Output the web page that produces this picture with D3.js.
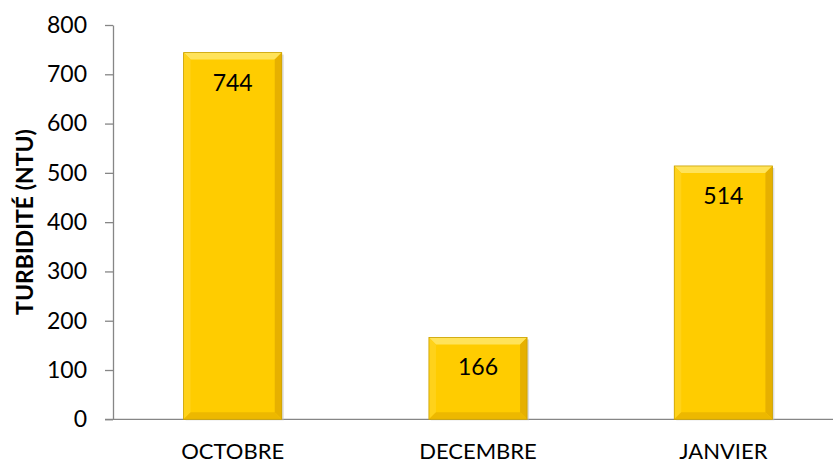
<!DOCTYPE html>
<html><head><meta charset="utf-8">
<script src="https://cdn.jsdelivr.net/npm/d3@7"></script>
<style>body{margin:0;background:#fff;} svg{display:block;}</style>
</head><body>
<svg id="c" width="833" height="463"></svg>
<script>
const categories = ["OCTOBRE", "DECEMBRE", "JANVIER"];
const values = [744, 166, 514];
const yTicks = [0, 100, 200, 300, 400, 500, 600, 700, 800];
const yTitle = "TURBIDITÉ (NTU)";

const svg = d3.select("#c");
const font = "Lato, 'Open Sans', sans-serif";
const x = d3.scaleBand().domain(categories).range([110, 846]).paddingInner(0.6).paddingOuter(0.3);
const y = d3.scaleLinear().domain([0, 800]).range([419.3, 25]);

// Axes
const yAxis = svg.append("g").attr("transform", "translate(113,0)")
  .call(d3.axisLeft(y).tickValues(yTicks).tickSize(8).tickPadding(18).tickSizeOuter(0));
yAxis.select(".domain").attr("stroke", "#868686").attr("stroke-width", 1.3);
yAxis.selectAll(".tick line").attr("stroke", "#868686").attr("stroke-width", 1.3);
yAxis.selectAll(".tick text").attr("font-family", font).attr("font-size", 23).attr("fill", "#000");

svg.append("line").attr("x1", 105).attr("x2", 833).attr("y1", y(0)).attr("y2", y(0))
  .attr("stroke", "#868686").attr("stroke-width", 1.3);

svg.append("g").selectAll("text").data(categories).join("text")
  .attr("x", d => x(d) + x.bandwidth() / 2).attr("y", 459)
  .attr("text-anchor", "middle").attr("font-family", font).attr("font-size", 22).attr("fill", "#000")
  .text(d => d);

svg.append("text").attr("transform", "translate(33,222) rotate(-90)")
  .attr("text-anchor", "middle").attr("font-family", font).attr("font-weight", "bold")
  .attr("font-size", 23).attr("fill", "#000").text(yTitle);

// Bars with bevel
const bv = 7;
const data = categories.map((c, i) => ({c, v: values[i]}));
const g = svg.append("g");
data.forEach(d => {
  const x0 = x(d.c), x1 = x0 + x.bandwidth(), y0 = y(d.v), y1 = y(0);
  g.append("rect").attr("x", x0 + 2).attr("y", y0 + 2).attr("width", x1 - x0).attr("height", y1 - y0 - 1)
    .attr("fill", "#bbb").attr("opacity", 0.5);
  g.append("rect").attr("x", x0).attr("y", y0).attr("width", x1 - x0).attr("height", y1 - y0).attr("fill", "#FFCC00");
  const poly = (pts, col) => g.append("polygon").attr("points", pts.map(p => p.join(",")).join(" ")).attr("fill", col);
  poly([[x0, y0], [x1, y0], [x1 - bv, y0 + bv], [x0 + bv, y0 + bv]], "#FFE35A");
  poly([[x0, y0], [x0 + bv, y0 + bv], [x0 + bv, y1 - bv], [x0, y1]], "#FFD21A");
  poly([[x1, y0], [x1, y1], [x1 - bv, y1 - bv], [x1 - bv, y0 + bv]], "#E6B000");
  poly([[x0, y1], [x0 + bv, y1 - bv], [x1 - bv, y1 - bv], [x1, y1]], "#EDB800");
  g.append("rect").attr("x", x0).attr("y", y0).attr("width", x1 - x0).attr("height", y1 - y0)
    .attr("fill", "none").attr("stroke", "#C9A000").attr("stroke-width", 0.8);
  g.append("text").attr("x", (x0 + x1) / 2).attr("y", y0 + 38).attr("text-anchor", "middle")
    .attr("font-family", font).attr("font-size", 23).attr("fill", "#000").text(d.v);
});
</script>
</body></html>
